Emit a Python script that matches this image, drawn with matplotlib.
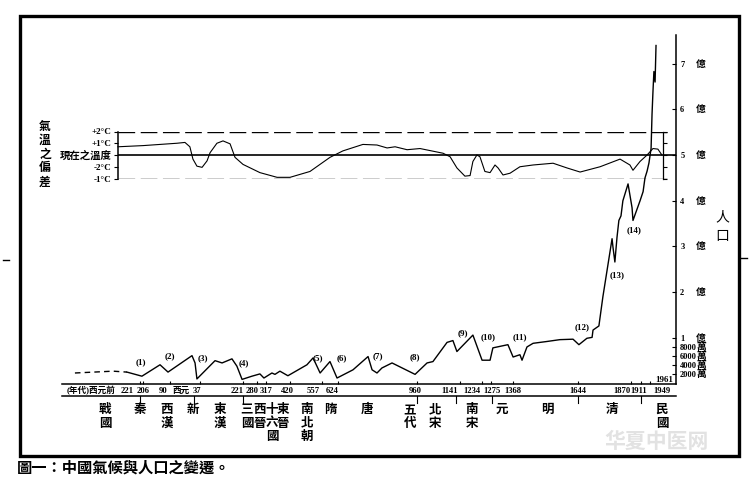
import matplotlib.pyplot as plt
from matplotlib.lines import Line2D
from matplotlib.patches import Rectangle

plt.rcParams['font.family'] = ['Liberation Serif', 'Noto Sans CJK TC', 'DejaVu Sans']
plt.rcParams['font.weight'] = 'bold'

# population in 億 (negative years = BC)
pop_years = [-496, -334, -275, -211, -134, -100, 2, 15, 23, 100,
             130, 172, 193, 215, 257, 291, 308, 342, 355, 376,
             410, 491, 517, 547, 589, 619, 687, 751, 768, 789,
             810, 853, 951, 1002, 1027, 1087, 1112, 1129, 1197, 1236,
             1270, 1282, 1346, 1368, 1397, 1406, 1427, 1453, 1512, 1567,
             1623, 1648, 1682, 1704, 1708, 1733, 1750, 1789, 1793, 1801,
             1810, 1818, 1827, 1835, 1857, 1874, 1878, 1908, 1921, 1929,
             1938, 1946, 1955, 1959, 1963, 1967, 1972, 1976]
pop_values = [0.23, 0.27, 0.25, 0.16, 0.41, 0.25, 0.61, 0.45, 0.10, 0.50,
              0.45, 0.54, 0.38, 0.09, 0.16, 0.21, 0.12, 0.23, 0.20, 0.27,
              0.17, 0.41, 0.56, 0.23, 0.48, 0.12, 0.30, 0.59, 0.30, 0.23,
              0.34, 0.45, 0.20, 0.45, 0.48, 0.90, 0.94, 0.70, 1.06, 0.51,
              0.51, 0.78, 0.85, 0.58, 0.63, 0.51, 0.80, 0.88, 0.92, 0.96,
              0.97, 0.85, 0.99, 1.01, 1.17, 1.26, 1.90, 3.17, 2.98, 2.66,
              3.20, 3.57, 3.67, 4.00, 4.37, 3.85, 3.57, 4.00, 4.20, 4.50,
              4.65, 4.83, 5.15, 5.89, 6.39, 6.83, 6.60, 7.40]

# temperature deviation from present (°C)
temp_years = [-313, -206, -62, -28, -7, 6, 23, 45, 66, 79,
              108, 134, 164, 185, 219, 291, 364, 419, 504, 589,
              644, 729, 789, 832, 866, 917, 972, 1070, 1100, 1129,
              1163, 1185, 1197, 1214, 1227, 1248, 1270, 1291, 1304, 1325,
              1355, 1397, 1453, 1538, 1597, 1653, 1738, 1823, 1865, 1878,
              1908, 1938, 1963, 1984, 2001]
temp_values = [0.7, 0.8, 1.0, 1.07, 0.7, -0.35, -0.95, -1.05, -0.5, 0.2,
               1.0, 1.2, 0.95, -0.2, -0.8, -1.5, -1.9, -1.9, -1.4, -0.2,
               0.35, 0.9, 0.85, 0.6, 0.7, 0.45, 0.55, 0.15, -0.15, -1.1,
               -1.8, -1.75, -0.55, 0.0, -0.15, -1.4, -1.5, -0.85, -1.1, -1.7,
               -1.55, -1.0, -0.85, -0.7, -1.1, -1.45, -1.0, -0.35, -0.85, -1.3,
               -0.55, 0.0, 0.55, 0.5, 0.0]

tick_years = [-221, -206, -90, 37, 221, 280, 317, 420, 557, 624, 960,
              1141, 1234, 1275, 1368, 1644, 1870, 1911, 1949]
tick_labels = ['221', '206', '90', '37', '221', '280', '317', '420', '557', '624', '960',
               '1141', '1234', '1275', '1368', '1644', '1870', '1911', '1949']
tick_shift = [-12.6, 0, -7, -3, -6.5, -5, 0, -3, -9.5, -6, -2,
              -10, -9.6, 0.7, 0, 0, -9.5, -2, 12]

dynasties = ['戰\n國', '秦', '西\n漢', '新', '東\n漢', '三\n國', '西\n晉', '十\n六\n國', '東\n晉',
             '南\n北\n朝', '隋', '唐', '五\n代', '北\n宋', '南\n宋', '元', '明', '清', '民\n國']
dynasty_x = [-368, -219, -104, 6, 121, 236, 291, 342, 389,
             491, 589, 746, 929, 1036, 1193, 1321, 1512, 1789, 2001]
boundary_years = [-221, 9, 220, 960, 1127, 1279, 1644, 1911]

event_labels = ['(1)', '(2)', '(3)', '(4)', '(5)', '(6)', '(7)', '(8)', '(9)', '(10)',
                '(11)', '(12)', '(13)', '(14)']
event_x = [-215, -92, 49, 223, 538, 640, 793, 951, 1155, 1261, 1397, 1661, 1810, 1882]
event_y = [0.47, 0.60, 0.56, 0.45, 0.56, 0.56, 0.60, 0.58, 1.10, 1.02, 1.02, 1.24, 2.37, 3.36]

pop_ticks = [7, 6, 5, 4, 3, 2, 1, 0.8, 0.6, 0.4, 0.2]
pop_tick_labels = ['7', '6', '5', '4', '3', '2', '1', '8000', '6000', '4000', '2000']
pop_units = ['億'] * 7 + ['萬'] * 4

temp_ticks = [2, 1, 0, -1, -2]
temp_labels = ['+2°C', '+1°C', '現在之溫度', '-2°C', '-1°C']

W, H = 750, 480
XMIN, XMAX = -551, 2061


def fx(px):
    return px / W


def fy(py):
    return 1 - py / H


def ay(py):
    return (383.5 - py) / 348.5


fig = plt.figure(figsize=(7.5, 4.8), dpi=100)

# population panel
ax = fig.add_axes([fx(62), fy(383.5), fx(676) - fx(62), fy(35) - fy(383.5)])
ax.set_xlim(XMIN, XMAX)
ax.set_ylim(0, 7.63)
ax.patch.set_visible(False)
ax.spines['left'].set_visible(False)
ax.spines['top'].set_visible(False)
ax.spines['right'].set_linewidth(1.1)
ax.spines['bottom'].set_linewidth(1.1)
ax.plot(pop_years[:3], pop_values[:3], color='black', lw=1.0, ls=(0, (4, 3)))
ax.plot(pop_years[2:], pop_values[2:], color='black', lw=1.0)

ax.set_xticks(tick_years)
ax.set_xticklabels([])
ax.tick_params(axis='x', direction='in', length=2.5, width=0.8)
ax.yaxis.tick_right()
ax.set_yticks(pop_ticks, pop_tick_labels)
ax.tick_params(axis='y', direction='in', length=3, width=0.8, pad=3, labelsize=6)
for v, u in zip(pop_ticks, pop_units):
    ax.text(1.0407, v, u, transform=ax.get_yaxis_transform(), ha='center', va='center',
            fontsize=7, family='Noto Sans CJK TC')

xt = ax.get_xaxis_transform()
for yr, lbl, dx in zip(tick_years, tick_labels, tick_shift):
    ax.annotate(lbl, xy=(yr, ay(391)), xycoords=xt, xytext=(dx * 0.72, 0),
                textcoords='offset points', ha='center', va='center', fontsize=6.2)
ax.annotate('西元', xy=(1, ay(391)), xycoords=xt, xytext=(-11 * 0.72, 0),
            textcoords='offset points', ha='center', va='center', fontsize=6.2)
ax.text(0.008, ay(391), '(年代)西元前', transform=ax.transAxes,
        ha='left', va='center', fontsize=6.2)
ax.text(0.995, ay(380), '1961', transform=ax.transAxes, ha='right', va='center', fontsize=6.5)
ax.plot([XMIN, XMAX], [ay(396)] * 2, transform=xt, color='black', lw=1.1, clip_on=False)
for yr in boundary_years:
    ax.plot([yr, yr], [ay(396), ay(403)], transform=xt, color='black', lw=0.8, clip_on=False)

for name, x in zip(dynasties, dynasty_x):
    ax.text(x, ay(403), name, transform=xt, ha='center', va='top', fontsize=9,
            linespacing=1.05, family='Noto Sans CJK TC')

for lbl, x, y in zip(event_labels, event_x, event_y):
    ax.text(x, y, lbl, ha='center', va='center', fontsize=6.5)

# temperature panel
tax = fig.add_axes([fx(62), fy(178.5), fx(676) - fx(62), fy(131.5) - fy(178.5)])
tax.set_xlim(XMIN, XMAX)
tax.set_ylim(-2, 2)
tax.patch.set_visible(False)
tax.spines['top'].set_visible(False)
tax.spines['bottom'].set_visible(False)
tax.spines['left'].set_position(('data', -313))
tax.spines['right'].set_position(('data', 2006))
tax.spines['left'].set_linewidth(1.1)
tax.spines['right'].set_linewidth(0.9)
tax.set_xticks([])
tax.set_yticks(temp_ticks, temp_labels)
tax.tick_params(axis='y', left=True, right=True, labelleft=True, labelright=False,
                direction='out', length=3, width=0.8, pad=1.5, labelsize=6.5)
tax.get_yticklabels()[2].set_fontsize(7.5)
tax.hlines([2, -2], -313, 2023, color='black', lw=1.0, linestyles=[(0, (12, 4))])
tax.hlines(0, -313, XMAX, color='black', lw=1.2)
tax.plot(temp_years, temp_values, color='black', lw=0.8)

fig.text(fx(45), fy(154), '氣\n溫\n之\n偏\n差', ha='center', va='center', fontsize=8.5,
         linespacing=1.1, family='Noto Sans CJK TC')
fig.text(fx(722), fy(217), '人', ha='center', va='center', fontsize=10,
         family='Noto Sans CJK TC', weight='normal')
fig.text(fx(722), fy(236), '口', ha='center', va='center', fontsize=10,
         family='Noto Sans CJK TC', weight='normal')

# frame, caption and marks
fig.add_artist(Rectangle((fx(20), fy(456)), fx(739) - fx(20), fy(16) - fy(456),
                         fill=False, lw=2.4, color='black', transform=fig.transFigure))
fig.add_artist(Line2D([fx(3), fx(9)], [fy(260)] * 2, color='black', lw=1))
fig.add_artist(Line2D([fx(741), fx(747)], [fy(258)] * 2, color='black', lw=1))
fig.text(fx(17), fy(468), '圖一：中國氣候與人口之變遷。', ha='left', va='center',
         fontsize=11, family='Noto Sans CJK TC', weight='bold')
fig.text(fx(657), fy(441), '华夏中医网', ha='center', va='center', fontsize=15,
         family='Noto Sans CJK SC', weight='bold', color='#e2e2e2')

fig.savefig('out.png', dpi=100, facecolor='white')
